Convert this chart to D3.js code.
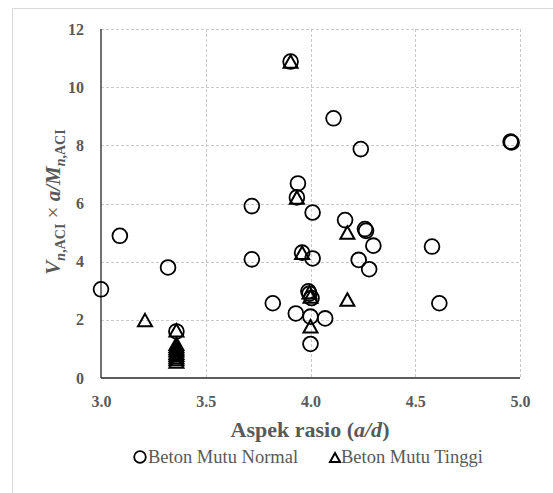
<!DOCTYPE html>
<html>
<head>
<meta charset="utf-8">
<script src="https://cdn.jsdelivr.net/npm/d3@7"></script>
<style>
body { margin: 0; background: #fff; }
svg { display: block; }
</style>
</head>
<body>
<svg id="chart" width="553" height="493"></svg>
<script>
// tick values
var xTicks = [3.0, 3.5, 4.0, 4.5, 5.0]
var yTicks = [0, 2, 4, 6, 8, 10, 12]

// Beton Mutu Normal (circles)
var normalX = [3.00, 3.09, 3.32, 3.36, 3.72, 3.72, 3.82, 3.905, 4.11, 4.24, 4.955, 4.96, 3.94, 3.935, 4.01, 4.165, 4.26, 4.265, 4.30, 4.58, 3.96, 4.01, 4.23, 4.28, 3.99, 3.995, 4.005, 3.93, 4.00, 4.07, 4.00, 4.615]
var normalY = [3.05, 4.89, 3.80, 1.60, 5.91, 4.08, 2.57, 10.88, 8.93, 7.87, 8.13, 8.10, 6.69, 6.21, 5.69, 5.43, 5.12, 5.06, 4.55, 4.52, 4.31, 4.11, 4.06, 3.74, 2.98, 2.90, 2.75, 2.22, 2.11, 2.05, 1.17, 2.57]

// Beton Mutu Tinggi (triangles)
var tinggiX = [3.21, 3.36, 3.36, 3.36, 3.36, 3.36, 3.36, 3.36, 3.36, 3.36, 3.36, 3.905, 3.935, 3.96, 4.176, 3.995, 4.00, 4.00, 4.176]
var tinggiY = [1.99, 1.64, 1.18, 1.10, 1.02, 0.95, 0.87, 0.80, 0.72, 0.65, 0.57, 10.88, 6.21, 4.31, 5.00, 2.95, 2.80, 1.78, 2.70]

var legendLabels = ['Beton Mutu Normal', 'Beton Mutu Tinggi']

var svg = d3.select('#chart')
var serif = '"Liberation Serif", "Times New Roman", serif'
var grey = '#595959'

// chart area border (runs off the page on the right/bottom)
svg.append('rect')
    .attr('x', 12.5).attr('y', 8.5)
    .attr('width', 600).attr('height', 600)
    .attr('fill', 'none')
    .attr('stroke', '#d9d9d9')

var x = d3.scaleLinear().domain([3, 5]).range([101, 520])
var y = d3.scaleLinear().domain([0, 12]).range([378, 29])

// grid
var grid = svg.append('g')
    .attr('stroke', '#c9c9c9')
    .attr('stroke-dasharray', '3,2')
    .attr('stroke-width', 1)
grid.selectAll('.gx').data(xTicks.slice(1)).enter().append('line')
    .attr('x1', d => Math.round(x(d)) + 0.5).attr('x2', d => Math.round(x(d)) + 0.5)
    .attr('y1', y(12)).attr('y2', y(0))
grid.selectAll('.gy').data(yTicks.slice(1)).enter().append('line')
    .attr('x1', x(3)).attr('x2', x(5))
    .attr('y1', d => Math.round(y(d)) + 0.5).attr('y2', d => Math.round(y(d)) + 0.5)

// axes
var xAxis = svg.append('g')
    .attr('transform', 'translate(0,' + y(0) + ')')
    .call(d3.axisBottom(x).tickValues(xTicks).tickSize(0).tickPadding(18).tickFormat(d3.format('.1f')))
var yAxis = svg.append('g')
    .attr('transform', 'translate(' + x(3) + ',0)')
    .call(d3.axisLeft(y).tickValues(yTicks).tickSize(0).tickPadding(17).tickFormat(d3.format('d')))

;[xAxis, yAxis].forEach(function(a) {
    a.attr('font-family', null)
    a.select('.domain').attr('stroke', '#262626').attr('stroke-width', 1.3)
    a.selectAll('text')
        .attr('fill', grey)
        .style('font-family', serif)
        .style('font-weight', 'bold')
        .style('font-size', '16px')
})
xAxis.select('.domain').attr('d', 'M' + x(3) + ',0H' + x(5))
yAxis.select('.domain').attr('d', 'M0,' + y(0) + 'V' + y(12))

// axis titles
var xt = svg.append('text')
    .attr('x', 310).attr('y', 437)
    .attr('text-anchor', 'middle')
    .attr('fill', grey)
    .style('font-family', serif)
    .style('font-weight', 'bold')
    .style('font-size', '22px')
xt.append('tspan').text('Aspek rasio (')
xt.append('tspan').style('font-style', 'italic').text('a/d')
xt.append('tspan').text(')')

var yt = svg.append('text')
    .attr('transform', 'translate(60,202) rotate(-90)')
    .attr('text-anchor', 'middle')
    .attr('fill', grey)
    .style('font-family', serif)
    .style('font-weight', 'bold')
    .style('font-size', '21px')
yt.append('tspan').style('font-style', 'italic').text('V')
yt.append('tspan').attr('dy', 5).style('font-size', '14px').style('font-style', 'italic').text('n')
yt.append('tspan').style('font-size', '14px').text(',ACI')
yt.append('tspan').attr('dy', -5).style('font-weight', 'normal').text(' × ')
yt.append('tspan').style('font-style', 'italic').text('a/M')
yt.append('tspan').attr('dy', 5).style('font-size', '14px').style('font-style', 'italic').text('n')
yt.append('tspan').style('font-size', '14px').text(',ACI')

function tri(w, h) {
    return 'M0,' + (-h / 2) + 'L' + (w / 2) + ',' + (h / 2) + 'L' + (-w / 2) + ',' + (h / 2) + 'Z'
}

// points
var pts = svg.append('g')
pts.selectAll('circle').data(d3.range(normalX.length)).enter().append('circle')
    .attr('cx', i => x(normalX[i]))
    .attr('cy', i => y(normalY[i]))
    .attr('r', 7.4)
    .attr('fill', 'none')
    .attr('stroke', '#000')
    .attr('stroke-width', 1.8)

pts.selectAll('path').data(d3.range(tinggiX.length)).enter().append('path')
    .attr('transform', i => 'translate(' + x(tinggiX[i]) + ',' + y(tinggiY[i]) + ')')
    .attr('d', tri(14, 12.5))
    .attr('fill', 'none')
    .attr('stroke', '#000')
    .attr('stroke-width', 2)

// legend
var lg = svg.append('g')
lg.append('circle').attr('cx', 140).attr('cy', 457).attr('r', 5.8)
    .attr('fill', 'none').attr('stroke', '#000').attr('stroke-width', 1.8)
lg.append('path').attr('transform', 'translate(335,457.5)').attr('d', tri(10, 9))
    .attr('fill', 'none').attr('stroke', '#000').attr('stroke-width', 2)
lg.selectAll('text').data(legendLabels).enter().append('text')
    .attr('x', (d, i) => i ? 341 : 148)
    .attr('y', 463)
    .attr('fill', grey)
    .style('font-family', serif)
    .style('font-size', '18.5px')
    .text(d => d)
</script>
</body>
</html>
